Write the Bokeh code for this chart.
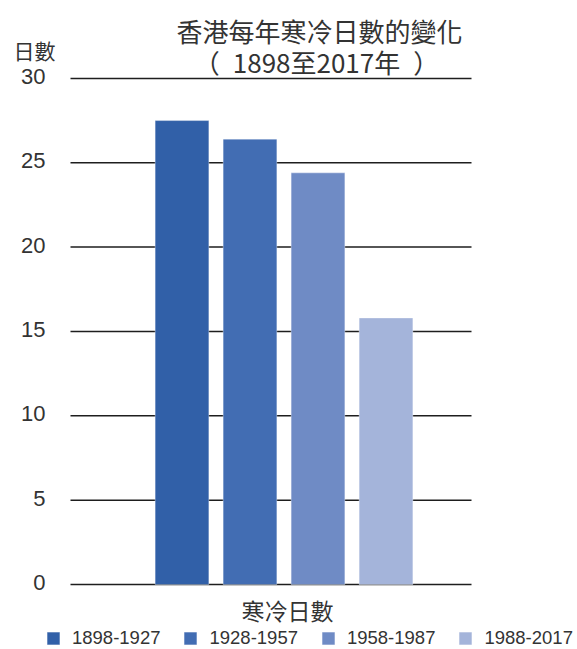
from bokeh.plotting import figure
from bokeh.models import Range1d, Label, Legend, LegendItem, ColumnDataSource
from bokeh.core.properties import value
from bokeh.embed import file_html
from bokeh.resources import INLINE

# Hong Kong cold days per year, 30-year averages
periods = ["1898-1927", "1928-1957", "1958-1987", "1988-2017"]
cold_days = [27.5, 26.4, 24.4, 15.8]
colors = ["#3160A8", "#426DB3", "#6F8BC5", "#A4B4DA"]
y_ticks = [0, 5, 10, 15, 20, 25, 30]

title_line1 = "香港每年寒冷日數的變化"
title_line2 = "（\u20021898至2017年\u2002）"
y_title = "日數"
x_title = "寒冷日數"

CJK = "Noto Sans CJK TC"
LATIN = "Liberation Sans"
TEXT = "#333333"

W, H = 577, 649
# value-axis layout: 0 sits 584 px from the top, 16.87 px per day;
# bar slots are 68 px apart, first slot centred 181.5 px from the left
Y0_PX, PX_PER_DAY = 584.0, 16.87
X0_PX, PX_PER_SLOT = 181.5, 68.0


def px_to_x(px):
    return (px - X0_PX) / PX_PER_SLOT


def px_to_y(py):
    return (Y0_PX - py) / PX_PER_DAY


p = figure(width=W, height=H, output_backend="svg", toolbar_location=None,
           x_range=Range1d(px_to_x(0), px_to_x(W)),
           y_range=Range1d(px_to_y(H), px_to_y(0)),
           min_border=0)
p.axis.visible = False
p.grid.visible = False
p.outline_line_color = None
p.background_fill_color = "white"
p.border_fill_color = "white"

# horizontal grid lines
grid_src = ColumnDataSource(dict(y=y_ticks, x0=[px_to_x(70)] * len(y_ticks),
                                 x1=[px_to_x(471)] * len(y_ticks),
                                 label=[str(t) for t in y_ticks]))
p.segment(x0="x0", x1="x1", y0="y", y1="y", line_color="#1e1e1e",
          line_width=1.5, source=grid_src)

# tick labels
p.text(x=px_to_x(45), y="y", text="label", source=grid_src,
       text_font=value(LATIN), text_font_size="22px", text_color=TEXT,
       text_align="right", text_baseline="middle", y_offset=-2)

src = ColumnDataSource(dict(x=list(range(len(periods))), top=cold_days,
                            color=colors, period=periods))
bars = p.vbar(x="x", top="top", bottom=0, width=0.79, fill_color="color",
              line_color="white", line_alpha=0.35, line_width=1, source=src)

items = [LegendItem(label=lab, renderers=[bars], index=i) for i, lab in enumerate(periods)]
legend = Legend(items=items, orientation="horizontal", location=(45, 0),
                glyph_width=16, glyph_height=16, label_standoff=11, spacing=22,
                label_height=18, padding=1, margin=0,
                border_line_color=None, background_fill_alpha=0,
                label_text_font=LATIN, label_text_font_size="18.5px",
                label_text_color=TEXT, label_text_baseline="middle")
p.add_layout(legend, "center")

p.add_layout(Label(x=px_to_x(319), y=px_to_y(30), text=title_line1,
                   text_font=CJK, text_font_size="26px", text_color=TEXT,
                   text_align="center", text_baseline="middle"))
p.add_layout(Label(x=px_to_x(316), y=px_to_y(61), text=title_line2,
                   text_font=CJK, text_font_size="26px", text_color=TEXT,
                   text_align="center", text_baseline="middle"))
p.add_layout(Label(x=px_to_x(34), y=px_to_y(49), text=y_title,
                   text_font=CJK, text_font_size="21px", text_color=TEXT,
                   text_align="center", text_baseline="middle"))
p.add_layout(Label(x=px_to_x(287), y=px_to_y(609), text=x_title,
                   text_font=CJK, text_font_size="23px", text_color=TEXT,
                   text_align="center", text_baseline="middle"))

open("out.html", "w").write(file_html(p, INLINE))
